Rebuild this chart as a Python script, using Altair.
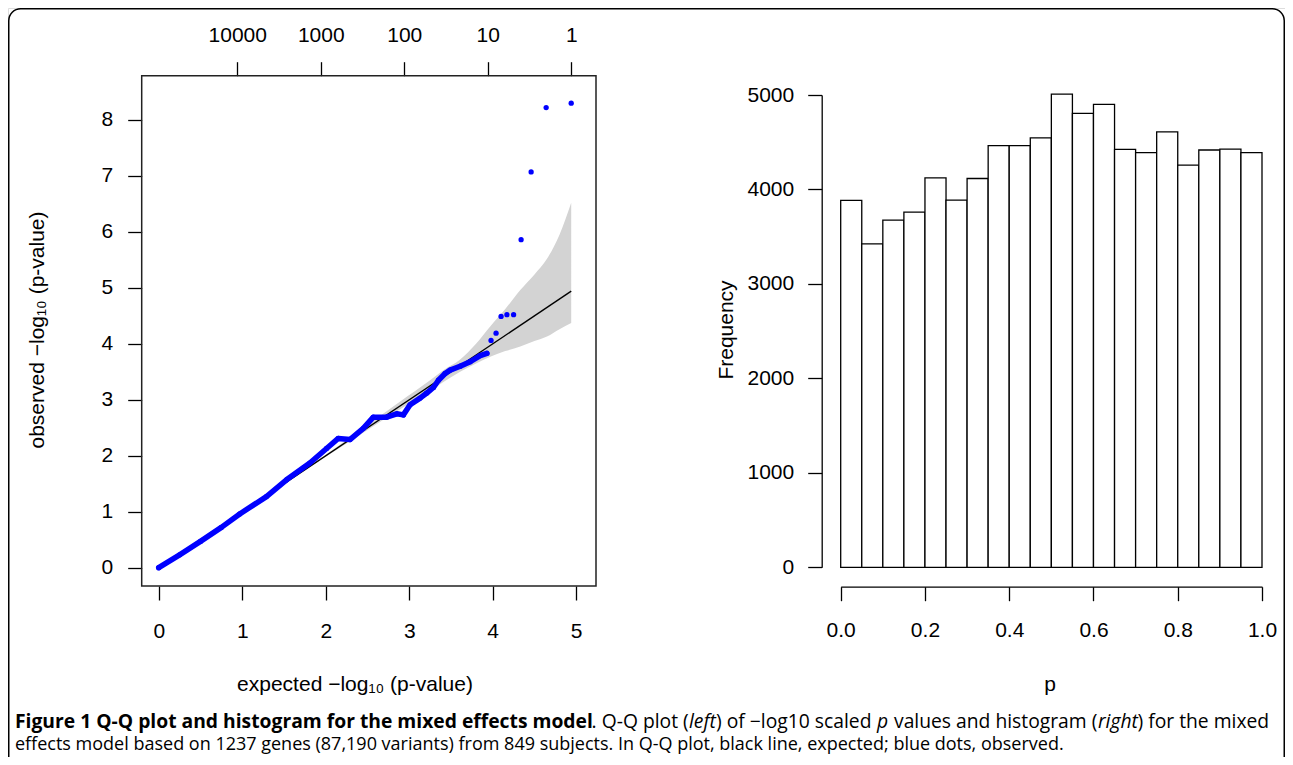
import math

import altair as alt
import pandas as pd

FONT = "Liberation Sans, Arial, Helvetica, sans-serif"
CAPTION_FONT = "Open Sans, Liberation Sans, sans-serif"
W, H = 1277, 749

# ---- Q-Q plot (left): expected vs observed -log10(p) ----
n_variants = 87190
dense_expected = [0.00, 0.25, 0.50, 0.75, 0.97, 1.29, 1.53, 1.81, 2.01, 2.15,
                  2.29, 2.45, 2.57, 2.73, 2.85, 2.93, 3.01, 3.13, 3.21, 3.29,
                  3.35, 3.43, 3.49, 3.61, 3.73, 3.85, 3.93]
dense_observed = [0.00, 0.23, 0.47, 0.72, 0.96, 1.27, 1.57, 1.87, 2.13, 2.31,
                  2.29, 2.49, 2.69, 2.69, 2.75, 2.73, 2.91, 3.03, 3.12, 3.22,
                  3.35, 3.47, 3.53, 3.60, 3.68, 3.79, 3.83]
top_expected = [4.94, 4.64, 4.46, 4.34, 4.25, 4.17, 4.10, 4.04, 3.98]
top_observed = [8.30, 8.22, 7.07, 5.86, 4.52, 4.52, 4.49, 4.19, 4.06]
band_expected = [1.50, 2.00, 2.50, 2.90, 3.25, 3.40, 3.61, 3.80, 3.97, 4.15,
                 4.33, 4.50, 4.65, 4.80, 4.94]
band_lower = [1.49, 1.98, 2.46, 2.84, 3.16, 3.31, 3.50, 3.65, 3.77, 3.87,
              3.95, 4.05, 4.13, 4.26, 4.37]
band_upper = [1.51, 2.02, 2.55, 2.98, 3.35, 3.52, 3.72, 4.00, 4.31, 4.62,
              4.96, 5.24, 5.52, 5.95, 6.52]
max_expected = math.log10(n_variants)
qq_x_domain = [-0.204, 5.237]
qq_y_domain = [-0.327, 8.79]
qq_x_ticks = [0, 1, 2, 3, 4, 5]
qq_y_ticks = [0, 1, 2, 3, 4, 5, 6, 7, 8]
rank_ticks = [10000, 1000, 100, 10, 1]

# ---- histogram (right) of p ----
bin_edges = [0.00, 0.05, 0.10, 0.15, 0.20, 0.25, 0.30, 0.35, 0.40, 0.45, 0.50,
             0.55, 0.60, 0.65, 0.70, 0.75, 0.80, 0.85, 0.90, 0.95, 1.00]
bin_counts = [3884, 3423, 3676, 3761, 4123, 3887, 4116, 4465, 4465, 4546,
              5010, 4806, 4901, 4424, 4391, 4610, 4257, 4418, 4428, 4391]
hist_x_ticks = [0.0, 0.2, 0.4, 0.6, 0.8, 1.0]
hist_y_ticks = [0, 1000, 2000, 3000, 4000, 5000]

# pixel placement of the two panels inside the single canvas
qq_x = alt.Scale(domain=qq_x_domain, range=[133.7, 588.0], nice=False, zero=False)
qq_y = alt.Scale(domain=qq_y_domain, range=[578.0, 67.7], nice=False, zero=False)
h_x = alt.Scale(domain=[0, 1], range=[832.7, 1254.0], nice=False, zero=False)
h_y = alt.Scale(domain=[0, 5000], range=[559.3, 87.0], nice=False, zero=False)

tick = dict(tickSize=14, tickWidth=1.3, tickColor="black", labelFont=FONT,
            labelFontSize=21, labelColor="black", grid=False, title=None,
            labelFlush=False, labelOverlap=False)

dense = pd.DataFrame({"e": dense_expected, "o": dense_observed})
observed = pd.DataFrame({"e": dense_expected + top_expected,
                         "o": dense_observed + top_observed})
band = pd.DataFrame({"e": band_expected, "lo": band_lower, "hi": band_upper})
diag = pd.DataFrame({"e": [0, max_expected], "o": [0, max_expected]})
box = pd.DataFrame({"x0": [qq_x_domain[0]], "x1": [qq_x_domain[1]],
                    "y0": [qq_y_domain[0]], "y1": [qq_y_domain[1]]})
hist = pd.DataFrame({"start": bin_edges[:-1], "end": bin_edges[1:],
                     "count": bin_counts, "base": [0] * len(bin_counts)})

frame = alt.Chart(pd.DataFrame({"a": [0]})).mark_rect(
    fillOpacity=0, stroke="black", strokeWidth=1.5, cornerRadius=12
).encode(x=alt.value(0.75), x2=alt.value(W - 0.75),
         y=alt.value(0.75), y2=alt.value(H + 40))

band_layer = alt.Chart(band).mark_area(
    color="#d3d3d3", opacity=1, interpolate="monotone"
).encode(
    x=alt.X("e:Q", scale=qq_x, axis=None),
    y=alt.Y("lo:Q", scale=qq_y, axis=None),
    y2="hi:Q")

diag_layer = alt.Chart(diag).mark_line(color="black", strokeWidth=1.4).encode(
    x=alt.X("e:Q", scale=qq_x, axis=alt.Axis(
        orient="top", offset=-67.7, domain=False, labelPadding=16,
        values=[max_expected - math.log10(r) for r in rank_ticks],
        labelExpr=f"format(pow(10, round({max_expected} - datum.value)), 'd')",
        **tick)),
    y=alt.Y("o:Q", scale=qq_y, axis=None))

dense_layer = alt.Chart(dense).mark_line(
    color="#0000ff", strokeWidth=5.5, strokeCap="round", strokeJoin="round"
).encode(x=alt.X("e:Q", scale=qq_x, axis=None),
         y=alt.Y("o:Q", scale=qq_y, axis=None))

point_layer = alt.Chart(observed).mark_circle(
    color="#0000ff", size=28, opacity=1
).encode(x=alt.X("e:Q", scale=qq_x, axis=None),
         y=alt.Y("o:Q", scale=qq_y, axis=None))

box_layer = alt.Chart(box).mark_rect(
    fillOpacity=0, stroke="#222222", strokeWidth=1.5
).encode(
    x=alt.X("x0:Q", scale=qq_x, axis=alt.Axis(
        orient="bottom", offset=578.0 - H, domain=False, values=qq_x_ticks,
        format="d", labelPadding=20, **tick)),
    x2="x1:Q",
    y=alt.Y("y0:Q", scale=qq_y, axis=alt.Axis(
        orient="left", offset=-133.7, domain=False, values=qq_y_ticks,
        format="d", labelPadding=15, labelAngle=0, **tick)),
    y2="y1:Q")

hist_layer = alt.Chart(hist).mark_rect(
    fill="white", stroke="black", strokeWidth=1.3
).encode(
    x=alt.X("start:Q", scale=h_x, axis=alt.Axis(
        orient="bottom", offset=578.7 - H, values=hist_x_ticks, format=".1f",
        domainColor="black", domainWidth=1.3, labelPadding=19, **tick)),
    x2="end:Q",
    y=alt.Y("count:Q", scale=h_y, axis=alt.Axis(
        orient="left", offset=-813.7, values=hist_y_ticks, format="d",
        domainColor="black", domainWidth=1.3, labelPadding=14, labelAngle=0,
        **tick)),
    y2="base:Q")


def label(text, x, y, angle=0, size=21, font=FONT, weight="normal",
          style="normal", align="center"):
    return alt.Chart(pd.DataFrame({"t": [text]})).mark_text(
        font=font, fontSize=size, fontWeight=weight, fontStyle=style,
        angle=angle, align=align, baseline="middle", color="black"
    ).encode(x=alt.value(x), y=alt.value(y), text="t:N")


titles = [
    label("observed  \u2212log\u2081\u2080 (p-value)", 30, 322, angle=270),
    label("expected  \u2212log\u2081\u2080 (p-value)", 347, 677),
    label("Frequency", 719, 322, angle=270),
    label("p", 1042, 677),
]

# caption: first line in pieces so the italic words can be set apart
cap1 = dict(font=CAPTION_FONT, size=19.3, align="left")
cap2 = dict(font=CAPTION_FONT, size=18, align="left")
caption = [
    label("Figure 1 Q-Q plot and histogram for the mixed effects model",
          7, 714, weight="bold", **cap1),
    label(". Q-Q plot (", 583.6, 714, **cap1),
    label("left", 681, 714, style="italic", **cap1),
    label(") of \u2212log10 scaled", 708, 714, **cap1),
    label("p", 869, 714, style="italic", **cap1),
    label("values and histogram (", 886, 714, **cap1),
    label("right", 1090, 714, style="italic", **cap1),
    label(") for the mixed", 1129.5, 714, **cap1),
    label("effects model based on 1237 genes (87,190 variants) from 849 "
          "subjects. In Q-Q plot, black line, expected; blue dots, observed.",
          7, 737, **cap2),
]

chart = alt.layer(
    frame, band_layer, diag_layer, dense_layer, point_layer, box_layer,
    hist_layer, *titles, *caption
).resolve_scale(
    x="independent", y="independent"
).properties(
    width=W, height=H, padding=0, autosize="none"
).configure_view(strokeWidth=0).configure(background="white")

chart.save("out.html", embed_options={"renderer": "svg", "actions": False})
